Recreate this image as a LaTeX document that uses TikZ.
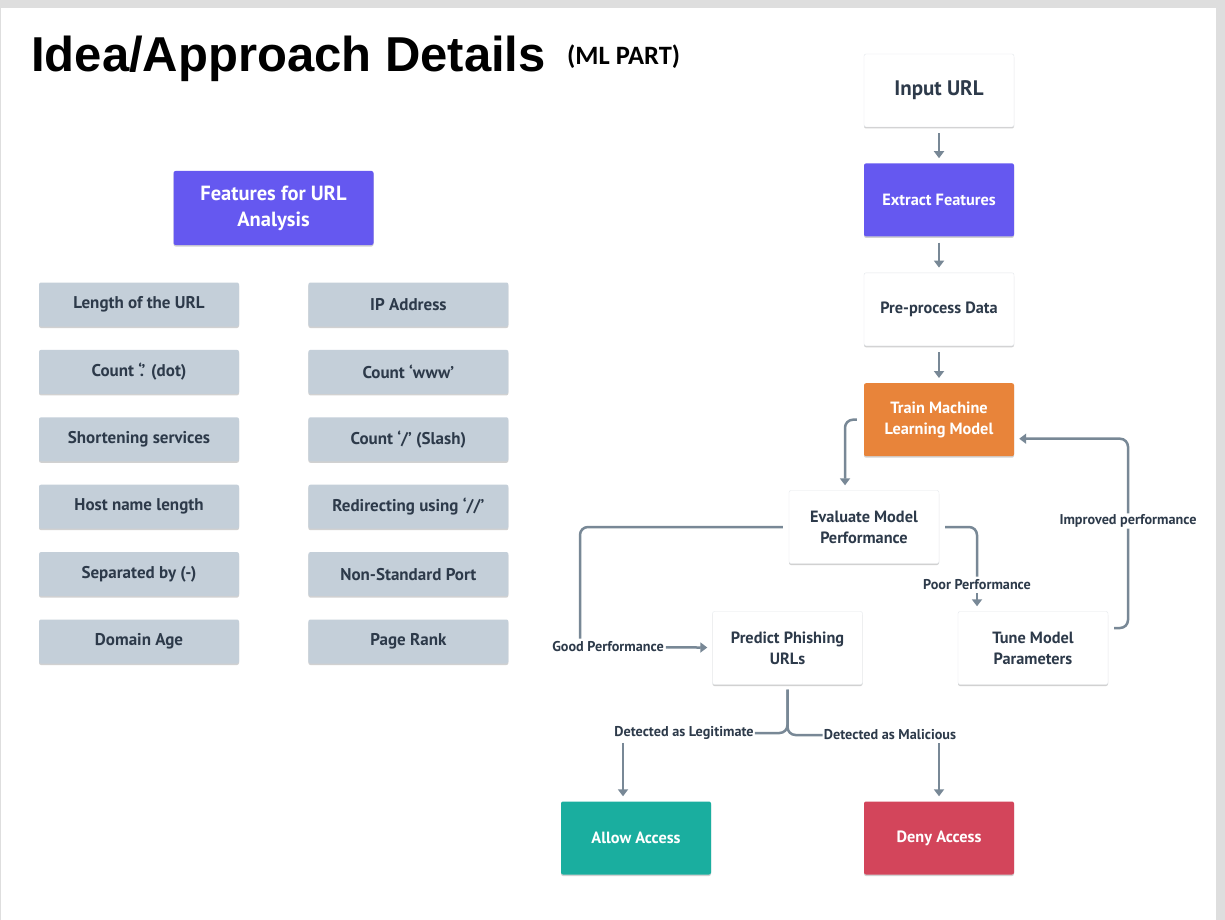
\documentclass[tikz,border=0pt]{standalone}
\usepackage{fontspec}
\setmainfont{PT Sans}
\newfontfamily\headfont{Liberation Sans}
\newfontfamily\partfont{Carlito}
\usepackage{tikz}
\usetikzlibrary{arrows.meta,positioning,calc,shadows}
\definecolor{ink}{HTML}{2D3A4A}
\definecolor{purp}{HTML}{6558F0}
\definecolor{orng}{HTML}{E8843A}
\definecolor{tealbox}{HTML}{1AAE9F}
\definecolor{rose}{HTML}{D3455B}
\definecolor{featgray}{HTML}{C4CFD9}
\definecolor{arrgray}{HTML}{788896}
\definecolor{rimgray}{HTML}{E3E7EB}
\definecolor{pagegray}{HTML}{DEDEDE}
\tikzset{
  soft/.style={drop shadow={shadow xshift=0pt,shadow yshift=-1.5pt,opacity=.18,fill=black}},
  feat/.style={soft,fill=featgray,rounded corners=2pt,minimum width=200pt,minimum height=44pt,inner sep=2pt,text=ink,font=\bfseries\fontsize{17}{20}\selectfont},
  flow/.style={soft,draw=rimgray,fill=#1,rounded corners=2pt,minimum width=150pt,minimum height=73pt,align=center,text=ink,font=\bfseries\fontsize{16.3}{21}\selectfont},
  flow/.default={white},
  cbox/.style={flow=#1,draw=none,text=white},
  arr/.style={-{Triangle[length=7pt,width=10pt]},line width=2.5pt,draw=arrgray,shorten >=5pt},
  wire/.style={line width=2.5pt,draw=arrgray,rounded corners=8pt},
  lbl/.style={font=\bfseries\fontsize{14.2}{16}\selectfont,text=ink,inner sep=1pt},
}

\begin{document}
\begin{tikzpicture}[x=1pt,y=-1pt]
 \fill[pagegray] (0,0) rectangle (1225,920);
 \fill[white] (1,8) rectangle (1216,920);
 \useasboundingbox (0,0) rectangle (1225,920);
 % title
 \node[anchor=base west,inner sep=0pt,font=\headfont\bfseries\fontsize{49}{51}\selectfont] (title) at (31,72) {Idea/Approach Details};
 \node[anchor=base west,inner sep=0pt,font=\partfont\bfseries\fontsize{26.5}{28}\selectfont] (part) at (567,65) {(ML PART)};
 % feature list
 \node[cbox=purp,minimum width=200pt,minimum height=74pt,font=\bfseries\fontsize{20.5}{26}\selectfont] (feathead) at (273.5,208) {Features for URL\\Analysis};
 \node[feat] (f1) at (139,304.5) {Length of the URL};
 \node[feat,below=23pt of f1] (f2) {Count ‘.’ (dot)};
 \node[feat,below=23pt of f2] (f3) {Shortening services};
 \node[feat,below=23pt of f3] (f4) {Host name length};
 \node[feat,below=23pt of f4] (f5) {Separated by (-)};
 \node[feat,below=23pt of f5] (f6) {Domain Age};
 \node[feat,right=69pt of f1] (g1) {IP Address};
 \node[feat,right=69pt of f2] (g2) {Count ‘www’};
 \node[feat,right=69pt of f3] (g3) {Count ‘/’ (Slash)};
 \node[feat,right=69pt of f4] (g4) {Redirecting using ‘//’};
 \node[feat,right=69pt of f5] (g5) {Non-Standard Port};
 \node[feat,right=69pt of f6] (g6) {Page Rank};
 % flow
 \node[flow,font=\bfseries\fontsize{21}{23}\selectfont] (inurl) at (939,90.5) {Input URL};
 \node[cbox=purp,below=36pt of inurl] (extr) {Extract Features};
 \node[flow,below=36pt of extr] (prep) {Pre-process Data};
 \node[cbox=orng,below=37pt of prep] (train) {Train Machine\\Learning Model};
 \node[flow] (eval) at (864,527) {Evaluate Model\\Performance};
 \node[flow] (pred) at (787.5,648) {Predict Phishing\\URLs};
 \node[flow] (tune) at (1033,648) {Tune Model\\Parameters};
 \node[cbox=tealbox] (allow) at (636,838) {Allow Access};
 \node[cbox=rose] (deny) at (939,838) {Deny Access};
 \node[lbl] (good) at (608,647) {Good Performance};
 \node[lbl] (poor) at (977,585) {Poor Performance};
 \node[lbl] (impr) at (1128,521) {Improved performance};
 \node[lbl] (legit) at (684,733) {Detected as Legitimate};
 \node[lbl] (malic) at (890,735) {Detected as Malicious};
 \draw[arr,shorten <=6pt] (inurl) -- (extr);
 \draw[arr,shorten <=6pt] (extr) -- (prep);
 \draw[arr,shorten <=6pt] (prep) -- (train);
 \draw[arr,rounded corners=8pt] ([xshift=-7pt]train.west) -| ([xshift=-19pt]eval.north);
 \draw[wire] ([xshift=-6pt]eval.west) -| ([xshift=-28pt,yshift=2pt]good.north);
 \draw[arr,shorten <=1pt] (good) -- (pred);
 \draw[wire] ([xshift=6pt]eval.east) -| ([yshift=2pt]poor.north);
 \draw[arr,shorten <=2pt] (poor.south) -- (poor.south |- tune.north);
 \draw[wire] ([xshift=6pt,yshift=20pt]tune.east) -| (impr.south);
 \draw[arr,rounded corners=8pt] (impr.north) |- ([yshift=-19pt]train.east);
 \draw[wire] ([yshift=-5pt]pred.south) |- (legit.east);
 \draw[wire] ([yshift=-5pt]pred.south) |- (malic.west);
 \draw[arr,shorten <=2pt] ([xshift=-13pt]allow.north |- legit.south) -- ([xshift=-13pt]allow.north);
 \draw[arr,shorten <=2pt] (deny.north |- malic.south) -- (deny.north);
\end{tikzpicture}
\end{document}
